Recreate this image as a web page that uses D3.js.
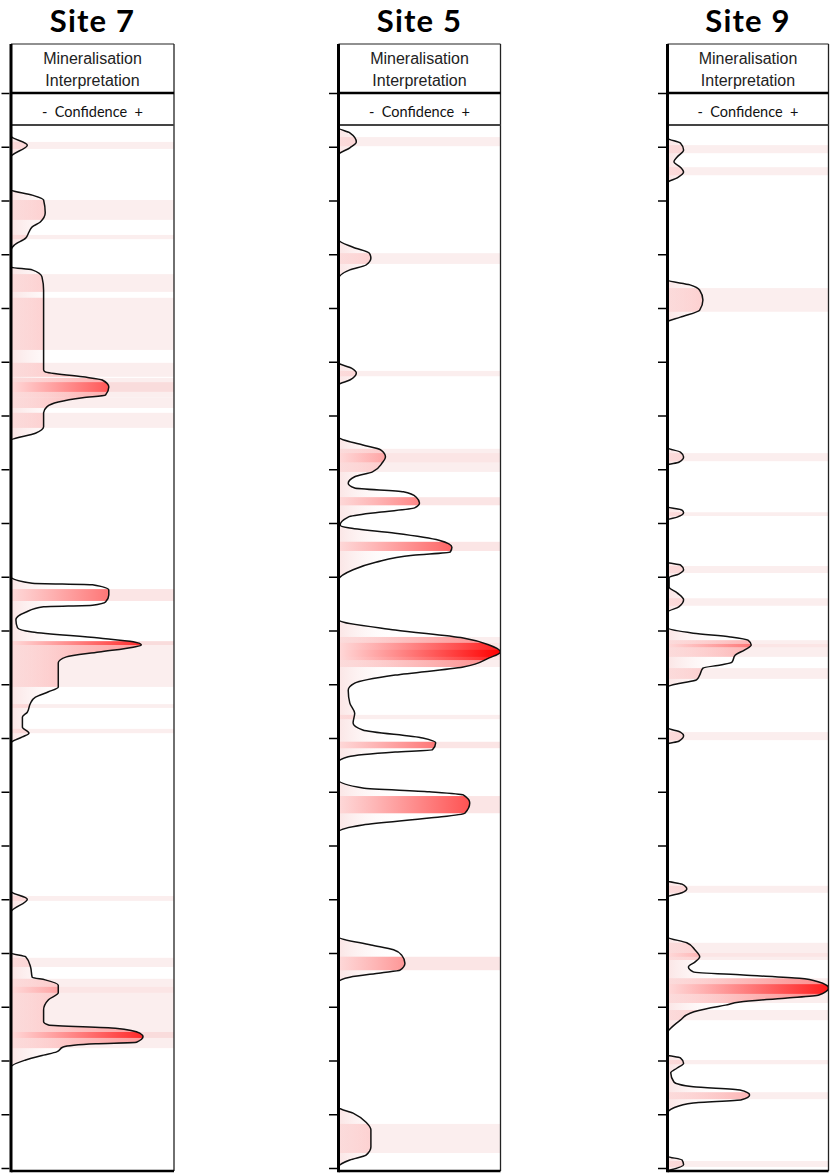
<!DOCTYPE html>
<html><head><meta charset="utf-8">
<script src="https://cdn.jsdelivr.net/npm/d3@7"></script>
<style>
html,body{margin:0;padding:0;background:#fff;}
svg{display:block;}
</style></head>
<body>
<svg id="chart" width="833" height="1175"></svg>
<script>
// ---------------- DATA ----------------
const siteNames = ["Site 7", "Site 5", "Site 9"];
const headerLines = ["Mineralisation", "Interpretation"];
const subHeader = "-  Confidence  +";
const depthTicks = [0,1,2,3,4,5,6,7,8,9,10,11,12,13,14,15,16,17,18,19,20];

// confidence envelope: [depth, confidence 0..1]
const curveSite7 = [
 [0.60,0],[0.80,0],[0.97,0.10],[1.19,0],[1.80,0],[1.90,0.13],[1.99,0.20],[2.23,0.21],[2.40,0.18],
 [2.49,0.13],[2.59,0.11],[2.70,0.09],[2.83,0.02],[2.92,0],[3.24,0],[3.29,0.13],[3.42,0.19],[3.67,0.20],
 [5.15,0.20],[5.19,0.21],[5.28,0.44],[5.34,0.56],[5.47,0.60],[5.62,0.58],[5.67,0.44],[5.75,0.29],
 [5.84,0.22],[5.95,0.20],[6.21,0.20],[6.33,0.15],[6.46,0],[9.00,0],[9.12,0.13],[9.15,0.50],[9.25,0.60],
 [9.34,0.60],[9.47,0.58],[9.53,0.50],[9.56,0.20],[9.66,0.09],[9.80,0.03],[9.95,0.04],[10.03,0.13],
 [10.14,0.54],[10.21,0.75],[10.27,0.80],[10.31,0.75],[10.40,0.54],[10.49,0.34],[10.60,0.29],[11.05,0.29],
 [11.14,0.23],[11.24,0.15],[11.35,0.12],[11.52,0.10],[11.61,0.07],[11.80,0.07],[11.91,0.11],[11.98,0.07],
 [12.09,0],[14.85,0],[15.00,0.10],[15.24,0],[16.00,0],[16.07,0.09],[16.26,0.12],[16.45,0.13],[16.50,0.21],
 [16.60,0.29],[16.74,0.29],[16.87,0.23],[17.06,0.20],[17.28,0.20],[17.34,0.23],[17.40,0.64],[17.49,0.79],
 [17.56,0.81],[17.66,0.77],[17.69,0.52],[17.75,0.32],[17.84,0.28],[17.90,0.20],[17.99,0.09],[18.12,0],[20.05,0]
];
const curveSite5 = [
 [0.60,0],[0.65,0],[0.74,0.07],[0.91,0.11],[1.02,0.07],[1.15,0],[2.73,0],[2.87,0.09],[2.98,0.19],[3.07,0.20],
 [3.20,0.17],[3.29,0.07],[3.46,0],[5.02,0],[5.12,0.08],[5.21,0.11],[5.34,0.07],[5.43,0],[6.40,0],[6.55,0.15],
 [6.64,0.26],[6.77,0.29],[6.88,0.27],[7.05,0.21],[7.14,0.10],[7.26,0.06],[7.35,0.10],[7.42,0.40],[7.52,0.48],
 [7.63,0.50],[7.72,0.47],[7.80,0.25],[7.89,0.06],[8.04,0.01],[8.09,0.06],[8.19,0.35],[8.32,0.62],[8.45,0.70],
 [8.54,0.69],[8.60,0.46],[8.73,0.23],[8.87,0.09],[9.06,0],[9.80,0],[9.99,0.35],[10.14,0.77],[10.27,0.93],
 [10.40,1.00],[10.51,0.93],[10.68,0.77],[10.83,0.35],[10.98,0.10],[11.11,0.06],[11.35,0.07],[11.54,0.10],
 [11.72,0.09],[11.85,0.15],[12.00,0.52],[12.09,0.60],[12.22,0.58],[12.26,0.35],[12.35,0.06],[12.45,0],
 [12.78,0],[12.93,0.15],[13.00,0.56],[13.06,0.77],[13.21,0.81],[13.40,0.78],[13.49,0.56],[13.62,0.15],
 [13.75,0],[15.70,0],[15.85,0.20],[15.94,0.34],[16.04,0.39],[16.19,0.41],[16.32,0.38],[16.37,0.26],
 [16.45,0.07],[16.54,0],[18.87,0],[18.98,0.09],[19.15,0.17],[19.29,0.20],[19.61,0.20],[19.76,0.17],
 [19.85,0.07],[19.98,0],[20.05,0]
];
const curveSite9 = [
 [0.60,0],[0.84,0],[0.93,0.08],[1.06,0.10],[1.19,0.06],[1.28,0.04],[1.38,0.08],[1.47,0.10],[1.58,0.06],
 [1.67,0],[3.48,0],[3.57,0.14],[3.67,0.20],[3.85,0.22],[4.04,0.20],[4.17,0.08],[4.26,0],[6.60,0],[6.68,0.08],
 [6.77,0.10],[6.87,0.07],[6.92,0],[7.70,0],[7.76,0.09],[7.81,0.10],[7.89,0.06],[7.94,0],[8.73,0],[8.78,0.08],
 [8.87,0.10],[8.95,0.07],[9.02,0.01],[9.19,0.01],[9.30,0.06],[9.43,0.10],[9.56,0.07],[9.66,0],[9.95,0],
 [10.05,0.16],[10.12,0.39],[10.18,0.50],[10.27,0.52],[10.36,0.48],[10.46,0.42],[10.59,0.40],[10.64,0.33],
 [10.70,0.22],[10.83,0.20],[10.92,0.18],[10.98,0.08],[11.05,0],[11.81,0],[11.89,0.08],[11.96,0.10],
 [12.06,0.07],[12.11,0],[14.66,0],[14.72,0.09],[14.81,0.12],[14.88,0.09],[14.96,0],[15.70,0],[15.81,0.12],
 [15.94,0.17],[16.07,0.20],[16.17,0.17],[16.26,0.13],[16.35,0.16],[16.41,0.47],[16.47,0.82],[16.54,0.94],
 [16.65,1.00],[16.78,0.94],[16.84,0.73],[16.91,0.45],[16.97,0.36],[17.02,0.27],[17.12,0.14],[17.25,0.08],
 [17.40,0.02],[17.47,0],[17.90,0],[17.95,0.08],[18.05,0.10],[18.14,0.06],[18.23,0.02],[18.40,0.04],
 [18.49,0.16],[18.55,0.45],[18.64,0.51],[18.73,0.46],[18.79,0.16],[18.88,0.04],[18.98,0],[19.78,0],
 [19.85,0.09],[19.94,0.10],[20.05,0]
];

// mineralised intervals: [top depth, bottom depth, level 1..3]
const bandsSite7 = [
 [0.91,1.04,1],[1.99,2.36,1],[2.64,2.72,1],[3.37,3.70,1],[3.81,4.78,1],[5.02,5.28,1],[5.30,5.67,1],
 [5.38,5.56,3],[5.67,5.86,1],[5.95,6.23,1],[9.23,9.45,2],[10.20,11.05,1],[10.20,10.27,3],[11.37,11.44,1],
 [11.83,11.91,1],[14.94,15.03,1],[16.09,16.26,1],[16.48,17.77,1],[16.63,16.74,2],[17.47,17.58,3]
];
const bandsSite5 = [
 [0.82,0.99,1],[2.98,3.18,1],[5.17,5.27,1],[6.62,7.05,1],[6.70,6.87,2],[7.52,7.67,2],[8.35,8.52,2],
 [10.12,10.68,1],[10.23,10.55,2],[10.36,10.49,3],[11.57,11.65,1],[12.07,12.19,2],[13.08,13.40,2],
 [16.07,16.32,2],[19.18,19.72,1]
];
const bandsSite9 = [
 [0.97,1.12,1],[1.38,1.53,1],[3.63,4.07,1],[6.70,6.85,1],[7.80,7.87,1],[8.80,8.93,1],[9.40,9.54,1],
 [10.18,10.49,1],[10.25,10.31,2],[10.70,10.90,1],[11.89,12.04,1],[14.75,14.88,1],[15.81,16.13,1],
 [16.00,16.07,2],[16.47,16.93,1],[16.58,16.76,2],[17.06,17.25,1],[17.99,18.07,1],[18.59,18.72,1],[19.87,19.98,1]
];

const curves = [curveSite7, curveSite5, curveSite9];
const bands = [bandsSite7, bandsSite5, bandsSite9];

// ---------------- LAYOUT ----------------
const panelLeft = [11, 338.5, 667.5];
const panelWidth = [163, 162, 161];
const boxTop = 44, headLine = 93, subLine = 125, boxBottom = 1171;

const svg = d3.select("#chart");
const defs = svg.append("defs");

const y = d3.scaleLinear().domain([0, 20]).range([93, 1168]);

const paleFill = {1: "#fbeeee", 2: "#fbe5e5", 3: "#f9dcdc"};
const innerOpacity = {1: 0.42, 2: 0.78, 3: 1.0};

siteNames.forEach((name, i) => {
  const W = panelWidth[i];
  const x = d3.scaleLinear().domain([0, 1]).range([0, W]);
  const g = svg.append("g").attr("transform", `translate(${panelLeft[i]},0)`);

  const gid = "grad" + i;
  const grad = defs.append("linearGradient").attr("id", gid)
    .attr("gradientUnits", "userSpaceOnUse").attr("x1", 0).attr("x2", W).attr("y1", 0).attr("y2", 0);
  grad.append("stop").attr("offset", 0).attr("stop-color", "#ffd9d9");
  grad.append("stop").attr("offset", 1).attr("stop-color", "#ff0000");
  const sid = "soft" + i;
  const soft = defs.append("linearGradient").attr("id", sid)
    .attr("gradientUnits", "userSpaceOnUse").attr("x1", 0).attr("x2", W * 0.4).attr("y1", 0).attr("y2", 0);
  soft.append("stop").attr("offset", 0).attr("stop-color", "#f6c6c6").attr("stop-opacity", 0.45);
  soft.append("stop").attr("offset", 1).attr("stop-color", "#ffffff").attr("stop-opacity", 0);

  const pid = "plot" + i;
  defs.append("clipPath").attr("id", pid).append("rect")
    .attr("x", 0).attr("y", subLine).attr("width", W).attr("height", boxBottom - subLine);

  const area = d3.area().curve(d3.curveMonotoneY)
    .y(d => y(d[0])).x0(0).x1(d => x(d[1]));
  const line = d3.line().curve(d3.curveMonotoneY)
    .y(d => y(d[0])).x(d => x(d[1]));

  const cid = "curve" + i;
  defs.append("clipPath").attr("id", cid).append("path").attr("d", area(curves[i]));

  const plot = g.append("g").attr("clip-path", `url(#${pid})`);

  plot.append("g").selectAll("rect").data(bands[i]).join("rect")
    .attr("x", 0).attr("width", W)
    .attr("y", d => y(d[0])).attr("height", d => y(d[1]) - y(d[0]))
    .attr("fill", d => paleFill[d[2]]);

  const inner = plot.append("g").attr("clip-path", `url(#${cid})`);
  inner.append("rect").attr("x", 0).attr("width", W).attr("y", subLine).attr("height", boxBottom - subLine)
    .attr("fill", `url(#${sid})`);
  inner.selectAll("rect.b").data(bands[i]).join("rect").attr("class", "b")
    .attr("x", 0).attr("width", W)
    .attr("y", d => y(d[0])).attr("height", d => y(d[1]) - y(d[0]))
    .attr("fill", `url(#${gid})`).attr("opacity", d => innerOpacity[d[2]]);

  plot.append("path").attr("d", line(curves[i]))
    .attr("fill", "none").attr("stroke", "#111").attr("stroke-width", 1.5)
    .attr("stroke-linejoin", "round");

  // frame
  g.append("line").attr("x1", 0).attr("x2", W).attr("y1", boxTop).attr("y2", boxTop)
    .attr("stroke", "#222").attr("stroke-width", 1.2);
  g.append("line").attr("x1", W).attr("x2", W).attr("y1", boxTop).attr("y2", boxBottom)
    .attr("stroke", "#222").attr("stroke-width", 1.3);
  g.append("line").attr("x1", 0).attr("x2", W).attr("y1", headLine).attr("y2", headLine)
    .attr("stroke", "#000").attr("stroke-width", 2.4);
  g.append("line").attr("x1", 0).attr("x2", W).attr("y1", subLine).attr("y2", subLine)
    .attr("stroke", "#444").attr("stroke-width", 1.8);
  g.append("line").attr("x1", 0).attr("x2", W).attr("y1", boxBottom).attr("y2", boxBottom)
    .attr("stroke", "#000").attr("stroke-width", 2.5);

  // depth axis
  const axis = d3.axisLeft(y).tickValues(depthTicks).tickSize(8).tickFormat("");
  const ag = g.append("g").call(axis);
  ag.select(".domain").remove();
  ag.selectAll(".tick line").attr("stroke", "#000").attr("stroke-width", 1.5).attr("transform", "translate(-1.5,0)");
  g.append("line").attr("x1", 0).attr("x2", 0).attr("y1", boxTop).attr("y2", boxBottom + 1.2)
    .attr("stroke", "#000").attr("stroke-width", 3);

  // texts
  g.append("text").attr("x", W / 2).attr("y", 32).attr("text-anchor", "middle")
    .attr("font-family", "Lato, 'Open Sans', sans-serif").attr("font-weight", 700)
    .attr("font-size", 31).attr("letter-spacing", 1.2).attr("fill", "#000").text(name);
  headerLines.forEach((t, k) => {
    g.append("text").attr("x", W / 2).attr("y", 64 + k * 22).attr("text-anchor", "middle")
      .attr("font-family", "'Liberation Sans', Arial, sans-serif").attr("font-size", 16)
      .attr("fill", "#222").text(t);
  });
  g.append("text").attr("x", W / 2).attr("y", 117).attr("text-anchor", "middle")
    .attr("font-family", "Lato, sans-serif").attr("font-size", 14.5)
    .attr("fill", "#111").style("white-space", "pre").text(subHeader);
});
</script>
</body></html>
